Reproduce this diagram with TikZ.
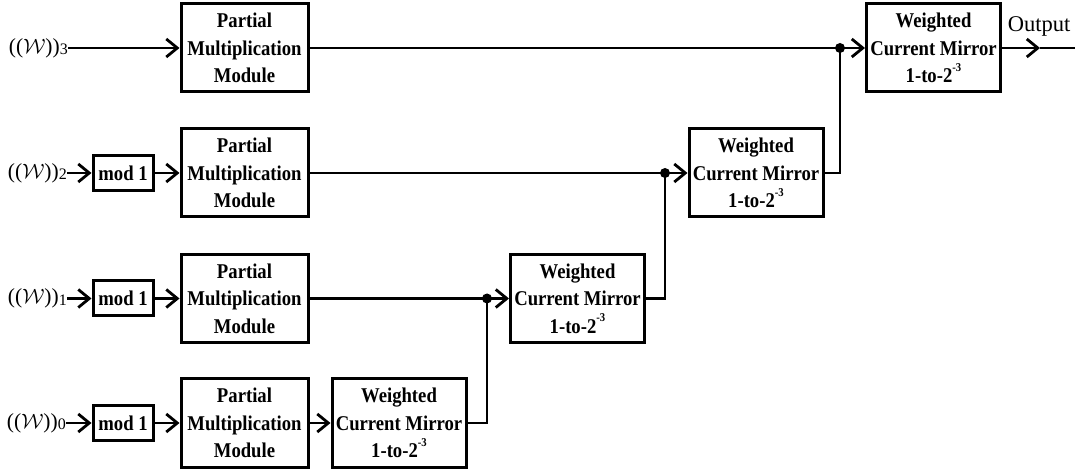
\documentclass[tikz,border=0pt]{standalone}
\usepackage{fontspec}
\setmainfont{Liberation Serif}
\newfontfamily\boxfont[FakeStretch=0.89]{Liberation Serif Bold}
\usetikzlibrary{arrows.meta}
\begin{document}
\begin{tikzpicture}[x=1pt,y=-1pt,
  blk/.style={draw, line width=3pt, inner sep=0pt, align=center,
    font=\boxfont\fontsize{21}{27.5}\selectfont},
  pmm/.style={blk, minimum width=127pt, minimum height=88pt},
  wcm/.style={blk, minimum width=134pt, minimum height=88pt},
  modb/.style={blk, minimum width=60pt, minimum height=35pt},
  conn/.style={line width=2.8pt},
  arr/.style={conn, -{Straight Barb[length=11pt,width=18pt,line width=2.8pt]}},
  dot/.style={circle, fill, inner sep=0pt, minimum size=10pt},
  lbl/.style={anchor=east, inner sep=0pt, font=\fontsize{21.5}{21.5}\selectfont}
]
\useasboundingbox (0,0) rectangle (1077,470);
\newcommand{\wlab}[1]{(($\mathcal{W}$))\raisebox{-1.5pt}{\fontsize{16}{16}\selectfont #1}}
\newcommand{\pmmtext}{Partial\\Multiplication\\Module}
\newcommand{\wcmtext}{Weighted\\Current Mirror\\1-to-2\raisebox{0.55em}{\fontsize{12}{12}\selectfont -3}}

% labels
\node[lbl] (l3) at (68,48) {\wlab{3}};
\node[lbl] (l2) at (67,173) {\wlab{2}};
\node[lbl] (l1) at (67,298.5) {\wlab{1}};
\node[lbl] (l0) at (66,423) {\wlab{0}};

% mod boxes
\node[modb] (m2) at (123,173) {mod 1};
\node[modb] (m1) at (123,298.5) {mod 1};
\node[modb] (m0) at (123,423) {mod 1};

% partial multiplication modules
\node[pmm] (p3) at (244.5,48) {\pmmtext};
\node[pmm] (p2) at (244.5,173) {\pmmtext};
\node[pmm] (p1) at (244.5,298.5) {\pmmtext};
\node[pmm] (p0) at (244.5,423) {\pmmtext};

% weighted current mirrors
\node[wcm] (w0) at (399,423) {\wcmtext};
\node[wcm] (w1) at (577.5,298.5) {\wcmtext};
\node[wcm] (w2) at (756,173) {\wcmtext};
\node[wcm] (w3) at (933.5,48) {\wcmtext};

% junction dots
\node[dot] (d1) at (487,298.5) {};
\node[dot] (d2) at (665,173) {};
\node[dot] (d3) at (840,48) {};

% output
\coordinate (otip) at (1040,48);
\coordinate (oend) at (1075,48);
\node[font=\fontsize{22.5}{22.5}\selectfont, anchor=base, inner sep=0pt] (out) at (1039,32) {Output};

% row 3
\draw[arr] (l3.east) -- (p3.west);
\draw[conn] (p3.east) -- (d3.center);
\draw[arr] (d3.center) -- (w3.west);
\draw[arr] (w3.east) -- (otip);
\draw[conn] (otip) -- (oend);

% row 2
\draw[arr] (l2.east) -- (m2.west);
\draw[arr] (m2.east) -- (p2.west);
\draw[conn] (p2.east) -- (d2.center);
\draw[arr] (d2.center) -- (w2.west);
\draw[conn] (w2.east) -| (d3.center);

% row 1
\draw[arr] (l1.east) -- (m1.west);
\draw[arr] (m1.east) -- (p1.west);
\draw[conn] (p1.east) -- (d1.center);
\draw[arr] (d1.center) -- (w1.west);
\draw[conn] (w1.east) -| (d2.center);

% row 0
\draw[arr] (l0.east) -- (m0.west);
\draw[arr] (m0.east) -- (p0.west);
\draw[arr] (p0.east) -- (w0.west);
\draw[conn] (w0.east) -| (d1.center);
\end{tikzpicture}
\end{document}
